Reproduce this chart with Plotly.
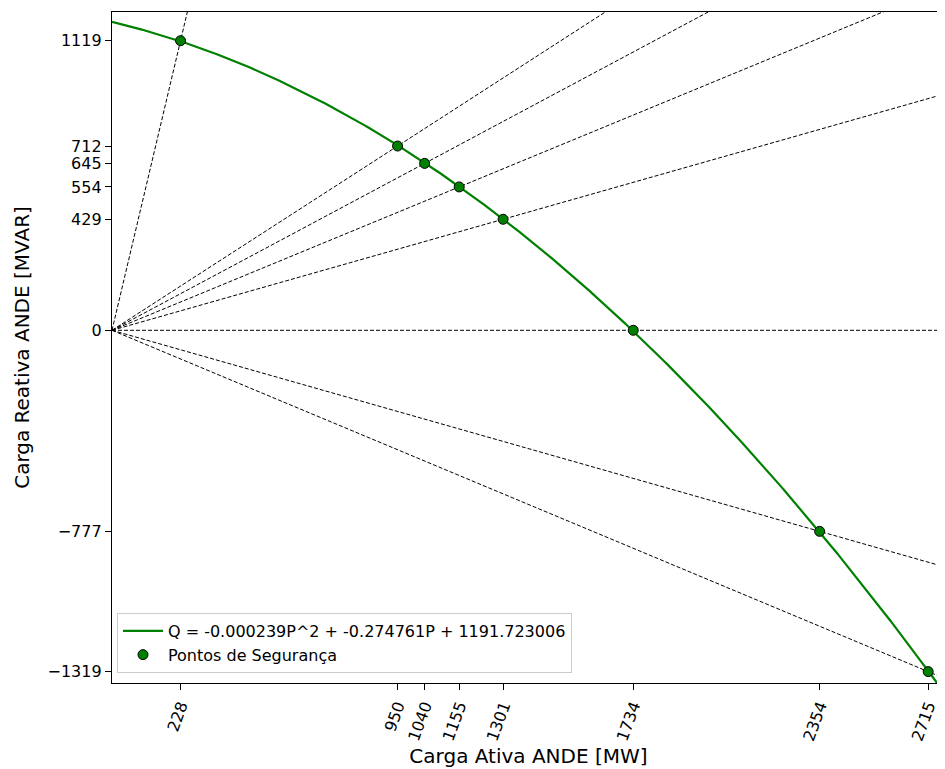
import numpy as np
import plotly.graph_objects as go

# Data
p_points = [228, 950, 1040, 1155, 1301, 1734, 2354, 2715]
q_points = [1119, 712, 645, 554, 429, 0, -777, -1319]
coef = [-0.000239, -0.274761, 1191.723006]  # Q = a P^2 + b P + c
x_ticks = p_points
y_ticks = [1119, 712, 645, 554, 429, 0, -777, -1319]
curve_label = "Q = -0.000239P^2 + -0.274761P + 1191.723006"
points_label = "Pontos de Segurança"

xmin, xmax = 0, 2771
ymin, ymax = -1363, 1230

fig = go.Figure()

# dashed rays from origin through each point (clipped by the axes)
for p, q in zip(p_points, q_points):
    k = 20.0
    fig.add_trace(go.Scatter(
        x=[0, p * k], y=[0, q * k], mode="lines",
        line=dict(color="black", width=1, dash="4px,2px"),
        showlegend=False, hoverinfo="skip"))

P = np.linspace(xmin, xmax, 1200)
Q = coef[0] * P**2 + coef[1] * P + coef[2]
fig.add_trace(go.Scatter(
    x=P, y=Q, mode="lines", line=dict(color="#008000", width=2.2),
    name=curve_label))

fig.add_trace(go.Scatter(
    x=p_points, y=q_points, mode="markers",
    marker=dict(color="#008000", size=10, line=dict(color="black", width=1)),
    name=points_label))

font = "DejaVu Sans, sans-serif"
# page body has an 8px margin; compensate so the plot area matches the reference
fig.update_layout(
    width=937, height=761,
    margin=dict(l=104, r=0, t=4, b=86),
    plot_bgcolor="white", paper_bgcolor="white",
    font=dict(family=font, size=16, color="black"),
    legend=dict(x=0.006, y=0.015, xanchor="left", yanchor="bottom",
                bgcolor="rgba(255,255,255,0.8)", bordercolor="#cccccc", borderwidth=1,
                font=dict(size=16, family=font), tracegroupgap=0, itemwidth=40),
    xaxis=dict(range=[xmin, xmax], tickvals=x_ticks, ticktext=[str(v) for v in x_ticks],
               tickangle=-70, ticks="outside", ticklen=6, tickcolor="black", tickwidth=1.2,
               showline=True, linecolor="black", linewidth=1.3, mirror=True,
               showgrid=False, zeroline=False, automargin=False,
               tickfont=dict(size=16),
               title=dict(text="Carga Ativa ANDE [MW]", font=dict(size=20), standoff=2)),
    yaxis=dict(range=[ymin, ymax], tickvals=y_ticks, ticktext=[str(v).replace("-", "\u2212") for v in y_ticks],
               ticks="outside", ticklen=6, tickcolor="black", tickwidth=1.2,
               showline=True, linecolor="black", linewidth=1.3, mirror=False,
               showgrid=False, zeroline=False, automargin=False,
               tickfont=dict(size=16),
               title=dict(text="Carga Reativa ANDE [MVAR]", font=dict(size=20), standoff=12)),
)

fig.write_html("out.html")
